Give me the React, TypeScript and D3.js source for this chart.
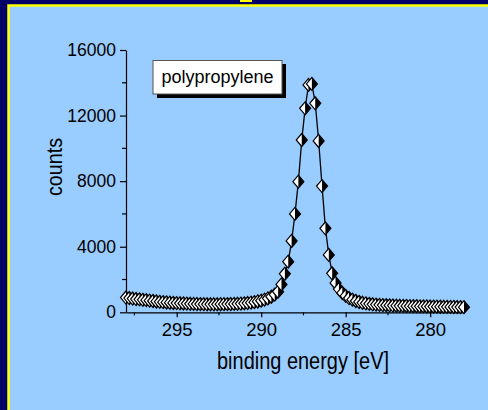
import { useEffect, useRef } from "react";
import * as d3 from "d3";

// XPS C1s spectrum, energies from 298.0 down to 278.0 eV in 0.2 eV steps
const energyStart = 298;
const energyEnd = 278;
const energyStep = 0.2;

const counts = [
  900, 870, 840, 810, 790, 760, 740, 710, 690, 660,
  640, 620, 600, 585, 570, 560, 550, 540, 530, 520,
  510, 505, 500, 495, 490, 490, 488, 490, 492, 495,
  500, 505, 512, 520, 530, 545, 565, 590, 620, 660,
  710, 770, 850, 950, 1080, 1260, 1700, 2350, 3090, 4350,
  6000, 7970, 10510, 12440, 13870, 13930, 12750, 10450, 7700, 5120,
  3500, 2380, 1790, 1420, 1180, 1000, 870, 770, 690, 630,
  580, 545, 515, 490, 470, 455, 440, 430, 420, 412,
  405, 398, 392, 386, 380, 375, 370, 365, 360, 356,
  352, 348, 344, 340, 336, 332, 328, 325, 322, 318,
  315,
];

const xTicks = [295, 290, 285, 280];
const xMinorTicks = [297.5, 292.5, 287.5, 282.5];
const yTicks = [0, 4000, 8000, 12000, 16000];
const yMinorTicks = [2000, 6000, 10000, 14000];

const legendLabel = "polypropylene";
const xLabel = "binding energy [eV]";
const yLabel = "counts";

const FONT = "'Liberation Sans', Arial, Helvetica, sans-serif";

export default function App() {
  const svgRef = useRef<SVGSVGElement | null>(null);

  useEffect(() => {
    if (!svgRef.current) return;
    const svg = d3.select(svgRef.current);
    svg.selectAll("*").remove();

    const width = 488;
    const height = 410;

    const energies = counts.map((_, i) => +(energyStart - i * energyStep).toFixed(1));
    const rows = energies.map((e, i) => ({ e, c: counts[i] }));

    const x = d3.scaleLinear().domain([energyStart, energyEnd]).range([126, 464]);
    const y = d3.scaleLinear().domain([0, 16000]).range([312.3, 50]);

    // frame
    svg.append("rect").attr("width", width).attr("height", height).attr("fill", "#000066");
    svg.append("rect").attr("x", 240).attr("y", 0).attr("width", 12).attr("height", 2).attr("fill", "#ffff00");
    svg
      .append("rect")
      .attr("x", 8.5)
      .attr("y", 5.5)
      .attr("width", width)
      .attr("height", height)
      .attr("fill", "#99ccff")
      .attr("stroke", "#ffff00")
      .attr("stroke-width", 2.5);

    // axes
    const xAxis = svg.append("g").attr("transform", `translate(0,${y(0)})`);
    xAxis.call(d3.axisBottom(x).tickValues(xTicks).tickSize(5).tickSizeOuter(0).tickPadding(6));
    xAxis
      .selectAll(".minor")
      .data(xMinorTicks)
      .join("line")
      .attr("class", "minor")
      .attr("x1", (d) => x(d))
      .attr("x2", (d) => x(d))
      .attr("y2", 3)
      .attr("stroke", "#000");

    const yAxis = svg.append("g").attr("transform", `translate(${x(energyStart)},0)`);
    yAxis.call(d3.axisLeft(y).tickValues(yTicks).tickSize(6).tickSizeOuter(0).tickPadding(4).tickFormat(d3.format("d")));
    yAxis
      .selectAll(".minor")
      .data(yMinorTicks)
      .join("line")
      .attr("class", "minor")
      .attr("y1", (d) => y(d))
      .attr("y2", (d) => y(d))
      .attr("x2", -4)
      .attr("stroke", "#000");

    [xAxis, yAxis].forEach((g) => {
      g.selectAll("path,line").attr("stroke", "#000").attr("stroke-width", 1.2);
      g.selectAll("text").attr("fill", "#000").attr("font-family", FONT);
    });
    xAxis.selectAll(".tick text").attr("font-size", 18.5);
    yAxis.selectAll(".tick text").attr("font-size", 17.5);

    svg
      .append("text")
      .attr("x", 303)
      .attr("y", 369)
      .attr("text-anchor", "middle")
      .attr("font-family", FONT)
      .attr("font-size", 23)
      .attr("textLength", 172)
      .attr("lengthAdjust", "spacingAndGlyphs")
      .text(xLabel);

    svg
      .append("text")
      .attr("transform", "translate(62,167) rotate(-90)")
      .attr("text-anchor", "middle")
      .attr("font-family", FONT)
      .attr("font-size", 22)
      .attr("textLength", 58)
      .attr("lengthAdjust", "spacingAndGlyphs")
      .text(yLabel);

    // legend
    const legend = svg.append("g");
    legend.append("rect").attr("x", 157).attr("y", 64).attr("width", 129).attr("height", 34).attr("fill", "#000");
    legend
      .append("rect")
      .attr("x", 153)
      .attr("y", 60.5)
      .attr("width", 129)
      .attr("height", 33.5)
      .attr("fill", "#fff")
      .attr("stroke", "#555")
      .attr("stroke-width", 1);
    legend
      .append("text")
      .attr("x", 217.5)
      .attr("y", 83)
      .attr("text-anchor", "middle")
      .attr("font-family", FONT)
      .attr("font-size", 18)
      .text(legendLabel);

    // line
    const line = d3
      .line<{ e: number; c: number }>()
      .x((d) => x(d.e))
      .y((d) => y(d.c));
    svg
      .append("path")
      .datum(rows)
      .attr("d", line)
      .attr("fill", "none")
      .attr("stroke", "#000")
      .attr("stroke-width", 1.3);

    // half-filled diamond markers
    const hw = 5.5;
    const hh = 6.5;
    const marks = svg
      .append("g")
      .selectAll("g")
      .data(rows)
      .join("g")
      .attr("transform", (d) => `translate(${x(d.e)},${y(d.c)})`);
    marks
      .append("path")
      .attr("d", `M0,${-hh}L${hw},0L0,${hh}L${-hw},0Z`)
      .attr("fill", "#fff")
      .attr("stroke", "#000")
      .attr("stroke-width", 1.2);
    marks
      .append("path")
      .attr("d", `M0,${-hh}L${hw},0L0,${hh}Z`)
      .attr("fill", "#000");
  }, []);

  return (
    <svg
      ref={svgRef}
      width={488}
      height={410}
      style={{ position: "absolute", left: 0, top: 0, display: "block" }}
    />
  );
}
